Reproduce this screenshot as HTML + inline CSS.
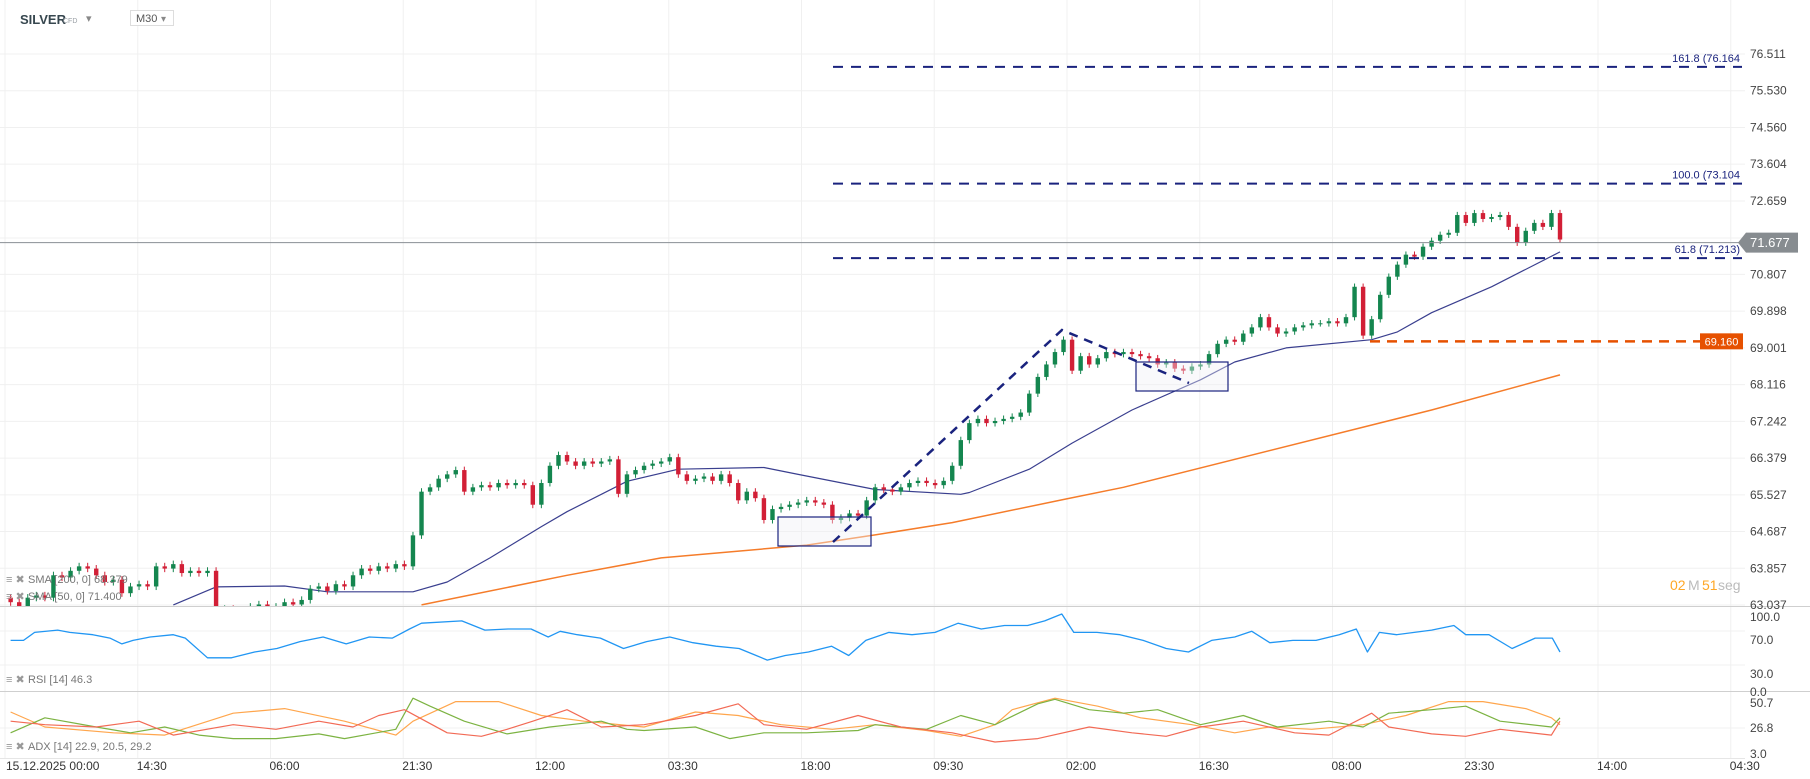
<!DOCTYPE html>
<html><head><meta charset="utf-8"><style>
html,body{margin:0;padding:0;background:#fff;width:1810px;height:779px;overflow:hidden;font-family:"Liberation Sans",sans-serif}
svg{display:block}
</style></head><body>
<svg id="chart" width="1810" height="779" xmlns="http://www.w3.org/2000/svg" font-family="Liberation Sans, sans-serif">
<defs><clipPath id="mainClip"><rect x="0" y="0" width="1745" height="606"/></clipPath>
<clipPath id="rsiClip"><rect x="0" y="607" width="1745" height="84"/></clipPath>
<clipPath id="adxClip"><rect x="0" y="693" width="1745" height="65"/></clipPath></defs>
<g id="grid"></g>
<g id="axes"></g>
<g id="main" clip-path="url(#mainClip)"></g>
<g id="rsi" clip-path="url(#rsiClip)"></g>
<g id="adx" clip-path="url(#adxClip)"></g>
<g id="overlay"></g>
</svg>
<script>
const closes=[63.1,63.0,63.2,63.25,63.2,63.7,63.65,63.8,63.9,63.85,63.7,63.55,63.6,63.3,63.45,63.5,63.45,63.9,63.85,63.95,63.75,63.8,63.75,63.8,62.9,62.95,62.85,62.9,63.0,63.05,62.95,63.0,63.1,63.05,63.15,63.4,63.45,63.35,63.5,63.45,63.7,63.85,63.8,63.9,63.85,63.95,63.9,64.6,65.6,65.7,65.9,66.0,66.1,65.6,65.7,65.75,65.7,65.8,65.75,65.8,65.75,65.3,65.8,66.2,66.45,66.3,66.2,66.3,66.25,66.3,66.35,65.55,66.0,66.1,66.2,66.25,66.3,66.4,66.0,65.85,65.9,65.95,65.85,66.0,65.8,65.4,65.6,65.45,64.95,65.2,65.25,65.3,65.35,65.4,65.35,65.3,64.95,65.0,65.1,65.05,65.4,65.7,65.65,65.6,65.7,65.8,65.85,65.8,65.75,65.85,66.2,66.8,67.2,67.3,67.2,67.25,67.3,67.35,67.45,67.9,68.3,68.6,68.9,69.2,68.45,68.8,68.6,68.75,68.9,68.85,68.9,68.85,68.8,68.75,68.6,68.65,68.5,68.45,68.55,68.6,68.85,69.1,69.2,69.15,69.35,69.5,69.75,69.5,69.35,69.4,69.5,69.55,69.6,69.6,69.65,69.6,69.75,70.5,69.3,69.7,70.3,70.75,71.05,71.3,71.25,71.5,71.65,71.8,71.85,72.3,72.1,72.35,72.2,72.25,72.3,72.0,71.6,71.9,72.1,72.0,72.35,71.68];
const firstOpen=63.2;
const sma50Idx=[19,24,32,37,47,51,56,62,65,72,78,88,92,101,111,112,119,124,131,139,143,149,159,162,166,173,181];
const sma50Val=[63.04,63.44,63.46,63.33,63.33,63.55,64.09,64.80,65.14,65.84,66.12,66.16,66.0,65.65,65.54,65.58,66.12,66.73,67.51,68.23,68.66,69.0,69.2,69.39,69.86,70.5,71.37];
const sma200Idx=[48,65,76,93,101,110,123,130,166,181];
const sma200Val=[63.04,63.7,64.09,64.38,64.61,64.89,65.42,65.7,67.51,68.35];
const rsiIdx=[0,1.5,2.8,5.5,6.9,9.6,11.6,13,14.3,16.3,19,20.4,23,25.8,28.5,31.1,33.8,36.5,39.2,41.9,44.6,46.6,48,52.7,55.4,58.1,60.8,62.8,64.2,66.2,68.9,71.6,74.3,77,79.7,82.4,85.1,87.1,88.4,90.5,93.2,95.9,97.9,99.9,102.6,105.3,108,110.7,113.4,116.1,118.8,120.8,122.8,124.2,126.9,129.6,132.3,135,137.6,140.3,143,145,147.1,149.8,152.5,155.2,157.2,158.5,159.9,161.9,166,168.6,170,172.7,175.4,178.1,180.1,181];
const rsiVal=[58.9,58.9,68.4,71.1,68.4,65.7,61.6,54.8,58.9,63.0,65.7,61.6,38.5,38.5,45.3,49.4,57.5,63.0,54.8,63.0,61.6,72.4,79.2,81.9,71.1,72.4,72.4,63.0,69.7,65.7,61.6,49.4,57.5,63.0,56.2,52.1,49.4,41.2,35.8,41.2,45.3,52.1,41.2,58.9,68.4,65.7,68.4,79.2,72.4,76.5,76.5,81.9,90.0,68.4,68.4,65.7,58.9,49.4,45.3,58.9,63.0,69.7,56.2,58.9,58.9,65.7,72.4,45.3,68.4,65.7,71.1,76.5,65.7,65.7,49.4,61.6,61.6,45.3];
const adxOIdx=[0,4,12,18,26,32,39,45,47,52,57,62,67,74,80,85,90,96,101,107,111,115,117,122,127,132,138,143,147,152,158,163,168,172,177,180,181];
const adxOVal=[42.1,27.8,22.3,20.1,41.0,45.4,33.3,20.1,33.3,52.0,52.0,38.8,33.3,27.8,42.1,38.8,30.0,25.6,30.0,24.5,18.9,30.0,44.3,55.3,47.7,36.6,30.0,22.3,27.8,25.6,30.0,38.8,52.0,52.0,45.4,36.6,30.0];
const adxGIdx=[0,4,10,14,18,22,26,31,36,39,45,47,49,53,58,63,69,72,74,80,84,88,93,99,101,107,111,115,120,122,126,130,134,139,144,148,154,158,161,166,170,174,180,181];
const adxGVal=[22.3,36.6,27.8,22.3,27.8,20.1,16.7,16.7,21.2,16.7,25.6,55.3,47.7,33.3,21.2,27.8,33.3,25.6,24.5,27.8,16.7,22.3,22.3,24.5,30.0,25.6,38.8,30.0,49.9,54.2,44.3,41.0,44.3,30.0,38.8,27.8,33.3,27.8,41.0,44.3,47.7,33.3,27.8,36.6];
const adxRIdx=[0,4,10,15,19,26,31,36,40,43,46,51,55,58,61,65,69,74,80,85,88,93,99,104,110,115,120,126,131,135,139,144,150,154,159,161,166,170,174,180,181];
const adxRVal=[33.3,30.0,27.8,33.3,20.1,30.0,25.6,33.3,27.8,38.8,44.3,22.3,18.9,25.6,33.3,44.3,27.8,30.0,38.8,49.9,30.0,25.6,38.8,27.8,22.3,13.5,16.7,27.8,22.3,18.9,27.8,33.3,22.3,20.1,41.0,27.8,21.2,18.9,25.6,20.1,33.3];
const priceTicks=[76.511,75.530,74.560,73.604,72.659,70.807,69.898,69.001,68.116,67.242,66.379,65.527,64.687,63.857,63.037];
const timeTicks=["15.12.2025  00:00","14:30","06:00","21:30","12:00","03:30","18:00","09:30","02:00","16:30","08:00","23:30","14:00","04:30"];
const fibLevels=[76.164,73.104,71.213];
const fibLabels=["161.8 (76.164","100.0 (73.104","61.8 (71.213)"];
const lastPrice=71.677;
const alertPrice=69.160;

const NS="http://www.w3.org/2000/svg";
const L0=Math.log(76.511);
function yP(p){return 54+2844.6*(L0-Math.log(p));}
function xI(i){return 1560-8.56*(181-i);}
function yR(v){return 690.5-0.85*v;}
function yA(v){return 753-(v-3)*1.048;}
function mk(tag,attrs,parent){const e=document.createElementNS(NS,tag);for(const k in attrs)e.setAttribute(k,attrs[k]);parent.appendChild(e);return e;}
const grid=document.getElementById('grid'),axes=document.getElementById('axes'),main=document.getElementById('main'),rsi=document.getElementById('rsi'),adx=document.getElementById('adx'),ov=document.getElementById('overlay');

// grid
priceTicks.concat([71.72]).forEach(p=>{const y=yP(p);mk('line',{x1:0,x2:1745,y1:y,y2:y,stroke:'#f0f0f0','stroke-width':1},grid);});
timeTicks.forEach((t,k)=>{const x=5+132.75*k;mk('line',{x1:x,x2:x,y1:0,y2:758,stroke:'#f0f0f0','stroke-width':1},grid);});
[70,30].forEach(v=>mk('line',{x1:0,x2:1745,y1:yR(v),y2:yR(v),stroke:'#f0f0f0'},grid));
mk('line',{x1:0,x2:1745,y1:yA(26.8),y2:yA(26.8),stroke:'#f0f0f0'},grid);
mk('line',{x1:0,x2:1810,y1:606.5,y2:606.5,stroke:'#cfcfcf'},grid);
mk('line',{x1:0,x2:1810,y1:691.5,y2:691.5,stroke:'#cfcfcf'},grid);
mk('line',{x1:0,x2:1745,y1:758.5,y2:758.5,stroke:'#e6e6e6'},grid);

// price labels
priceTicks.forEach(p=>{const t=mk('text',{x:1750,y:yP(p)+4,'font-size':12,fill:'#444'},axes);t.textContent=p.toFixed(3);

});
[["100.0",617],["70.0",640],["30.0",674],["0.0",692]].forEach(a=>{const t=mk('text',{x:1750,y:a[1]+4,'font-size':12,fill:'#444'},axes);t.textContent=a[0];

});
[["50.7",703],["26.8",728],["3.0",754]].forEach(a=>{const t=mk('text',{x:1750,y:a[1]+4,'font-size':12,fill:'#444'},axes);t.textContent=a[0];

});
timeTicks.forEach((s,k)=>{const x=k===0?6:5+132.75*k-1;const t=mk('text',{x:x,y:770,'font-size':12,fill:'#333','xml:space':'preserve'},axes);t.textContent=s;

});

// SMA lines
function poly(idx,val,fy,stroke,w,parent,name){let d='';idx.forEach((i,k)=>{d+=(k?'L':'M')+xI(i).toFixed(1)+','+fy(val[k]).toFixed(1);});const e=mk('path',{d:d,fill:'none',stroke:stroke,'stroke-width':w,'stroke-linejoin':'round'},parent);

return e;}
poly(sma200Idx,sma200Val,yP,'#f57c2a',1.5,main,'sma200-line');
poly(sma50Idx,sma50Val,yP,'#3a3f8f',1.2,main,'sma50-line');

// candles
closes.forEach((c,i)=>{const o=i?closes[i-1]:firstOpen;const x=xI(i);const up=c>=o;const col=up?'#14864f':'#d21f36';
const hi=Math.max(o,c)+0.08,lo=Math.min(o,c)-0.08;
const w=mk('line',{x1:x,x2:x,y1:yP(hi),y2:yP(lo),stroke:col,'stroke-width':1},main);


const yt=yP(Math.max(o,c)),yb=yP(Math.min(o,c));
const b=mk('rect',{x:x-2.2,y:yt,width:4.4,height:Math.max(1,yb-yt),fill:col},main);

});

// drawings
const r1=mk('rect',{x:778,y:517,width:93,height:29,fill:'rgba(240,240,245,0.4)',stroke:'#1a237e','stroke-width':1.2},main);


const r2=mk('rect',{x:1136,y:362,width:92,height:29,fill:'rgba(240,240,245,0.4)',stroke:'#1a237e','stroke-width':1.2},main);


const tl=mk('path',{d:'M833,542 L1062,330 L1189,383',fill:'none',stroke:'#1a237e','stroke-width':2.5,'stroke-dasharray':'9,7'},main);



fibLevels.forEach((p,k)=>{const y=yP(p);const l=mk('line',{x1:833,x2:1742,y1:y,y2:y,stroke:'#1a237e','stroke-width':2,'stroke-dasharray':'10,8'},ov);


const t=mk('text',{x:1740,y:y-5,'font-size':11,fill:'#1a237e','text-anchor':'end'},ov);t.textContent=fibLabels[k];

});

const ya=yP(alertPrice);
const al=mk('line',{x1:1370,x2:1700,y1:ya,y2:ya,stroke:'#e65100','stroke-width':2.5,'stroke-dasharray':'10,7'},ov);


const ab=mk('rect',{x:1700,y:ya-8,width:43,height:16,fill:'#e65100'},ov);


const at=mk('text',{x:1721.5,y:ya+4,'font-size':11,fill:'#fff','text-anchor':'middle'},ov);at.textContent=alertPrice.toFixed(3);



const yl=yP(lastPrice)+3;
const ll=mk('line',{x1:0,x2:1740,y1:yl,y2:yl,stroke:'#8a8f94','stroke-width':1},ov);


const lb=mk('path',{d:`M1738,${yl} L1746,${yl-10} L1798,${yl-10} L1798,${yl+10} L1746,${yl+10} Z`,fill:'#878c90'},ov);


const lt=mk('text',{x:1750,y:yl+4.5,'font-size':13,fill:'#fff'},ov);lt.textContent=lastPrice.toFixed(3);



// RSI
poly(rsiIdx,rsiVal,yR,'#2196f3',1.3,rsi,'rsi-line');
// ADX
poly(adxOIdx,adxOVal,yA,'#ffa64d',1.2,adx,'adx-line');
poly(adxGIdx,adxGVal,yA,'#7cb342',1.2,adx,'plus-di-line');
poly(adxRIdx,adxRVal,yA,'#f26a55',1.2,adx,'minus-di-line');

// header / labels
function txt(x,y,s,attrs,name,inter){const t=mk('text',Object.assign({x:x,y:y},attrs),ov);t.textContent=s;

return t;}
txt(20,24,'SILVER',{'font-size':13,'font-weight':'bold',fill:'#37474f'},'instrument-symbol','true');
txt(63,23,'CFD',{'font-size':7,fill:'#9aa0a6'},'instrument-type','false');
txt(86,22,'▾',{'font-size':11,fill:'#888'},'instrument-dropdown','true');
const mb=mk('rect',{x:130.5,y:10.5,width:43,height:15,fill:'#fff',stroke:'#ddd'},ov);


txt(136,22,'M30',{'font-size':11,fill:'#555'},'timeframe-label','false');
txt(161,22,'▾',{'font-size':10,fill:'#888'},'timeframe-dropdown','true');
txt(1670,590,'02',{'font-size':14,fill:'#ffa726'},'countdown-minutes','false');
txt(1688,590,'M',{'font-size':14,fill:'#bbb'},'countdown-m','false');
txt(1702,590,'51',{'font-size':14,fill:'#ffa726'},'countdown-seconds','false');
txt(1718,590,'seg',{'font-size':14,fill:'#bbb'},'countdown-seg','false');
function ind(y,s,name){txt(6,y,'≡ ✖',{'font-size':11,fill:'#999'},'indicator-icons','true');txt(28,y,s,{'font-size':11,fill:'#777'},name,'false');}
ind(583,'SMA [200, 0] 68.379','sma200-legend');
ind(600,'SMA [50, 0] 71.400','sma50-legend');
ind(683,'RSI [14]  46.3','rsi-legend');
ind(750,'ADX [14]  22.9,  20.5,  29.2','adx-legend');
</script>
</body></html>
